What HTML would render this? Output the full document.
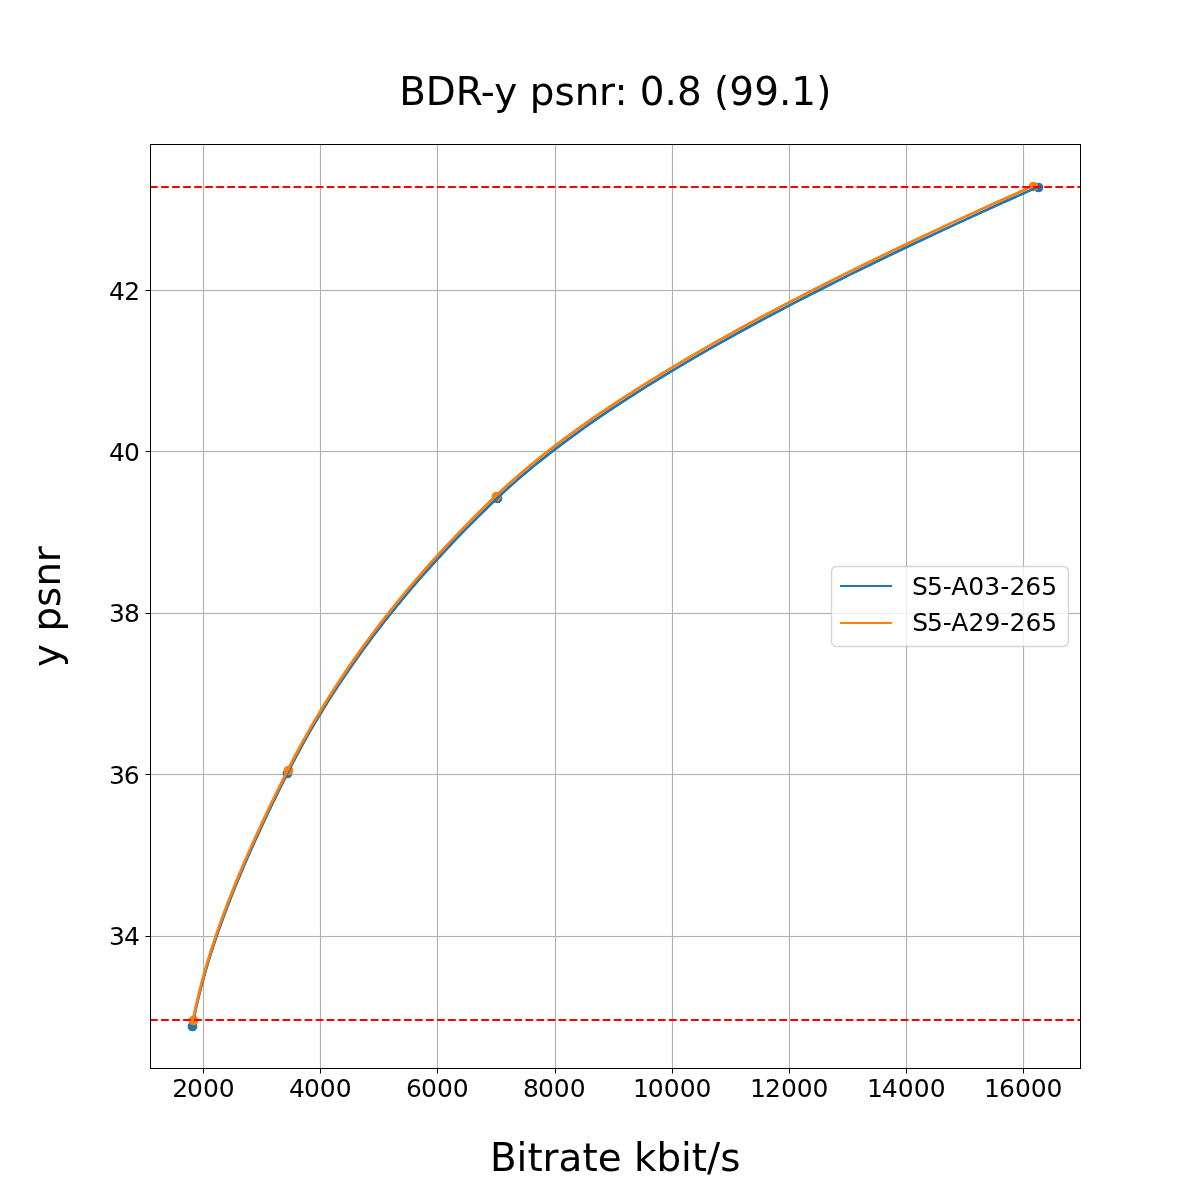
<!DOCTYPE html>
<html lang="en"><head><meta charset="utf-8"><title>BDR-y psnr: 0.8 (99.1)</title>
<style>
html,body{margin:0;padding:0;background:#fff}
svg{display:block}
text{font-family:"DejaVu Sans","Liberation Sans",sans-serif;fill:#000;white-space:pre}
.t18{font-size:25px}
.t28{font-size:38.889px}
</style></head><body>
<svg width="1200" height="1200" viewBox="0 0 1200 1200">
<rect width="1200" height="1200" fill="#fff"/>
<clipPath id="ax"><rect x="150" y="144" width="930" height="924"/></clipPath>
<g shape-rendering="crispEdges" fill="#b0b0b0">
<rect x="202" y="144" width="3" height="924" fill="#fafafa"/>
<rect x="319" y="144" width="3" height="924" fill="#fafafa"/>
<rect x="436" y="144" width="3" height="924" fill="#fafafa"/>
<rect x="554" y="144" width="3" height="924" fill="#fafafa"/>
<rect x="671" y="144" width="3" height="924" fill="#fafafa"/>
<rect x="788" y="144" width="3" height="924" fill="#fafafa"/>
<rect x="905" y="144" width="3" height="924" fill="#fafafa"/>
<rect x="1022" y="144" width="3" height="924" fill="#fafafa"/>
<rect x="150" y="289" width="930" height="3" fill="#fafafa"/>
<rect x="150" y="450" width="930" height="3" fill="#fafafa"/>
<rect x="150" y="612" width="930" height="3" fill="#fafafa"/>
<rect x="150" y="773" width="930" height="3" fill="#fafafa"/>
<rect x="150" y="935" width="930" height="3" fill="#fafafa"/>
<rect x="203" y="144" width="1" height="924"/>
<rect x="320" y="144" width="1" height="924"/>
<rect x="437" y="144" width="1" height="924"/>
<rect x="555" y="144" width="1" height="924"/>
<rect x="672" y="144" width="1" height="924"/>
<rect x="789" y="144" width="1" height="924"/>
<rect x="906" y="144" width="1" height="924"/>
<rect x="1023" y="144" width="1" height="924"/>
<rect x="150" y="290" width="930" height="1"/>
<rect x="150" y="451" width="930" height="1"/>
<rect x="150" y="613" width="930" height="1"/>
<rect x="150" y="774" width="930" height="1"/>
<rect x="150" y="936" width="930" height="1"/>
</g>
<g shape-rendering="crispEdges" fill="#000">
<rect x="203" y="1068" width="1" height="5"/><rect x="203" y="1073" width="1" height="1" fill="#7f7f7f"/>
<rect x="320" y="1068" width="1" height="5"/><rect x="320" y="1073" width="1" height="1" fill="#7f7f7f"/>
<rect x="437" y="1068" width="1" height="5"/><rect x="437" y="1073" width="1" height="1" fill="#7f7f7f"/>
<rect x="555" y="1068" width="1" height="5"/><rect x="555" y="1073" width="1" height="1" fill="#7f7f7f"/>
<rect x="672" y="1068" width="1" height="5"/><rect x="672" y="1073" width="1" height="1" fill="#7f7f7f"/>
<rect x="789" y="1068" width="1" height="5"/><rect x="789" y="1073" width="1" height="1" fill="#7f7f7f"/>
<rect x="906" y="1068" width="1" height="5"/><rect x="906" y="1073" width="1" height="1" fill="#7f7f7f"/>
<rect x="1023" y="1068" width="1" height="5"/><rect x="1023" y="1073" width="1" height="1" fill="#7f7f7f"/>
<rect x="146" y="290" width="4" height="1"/><rect x="145" y="290" width="1" height="1" fill="#7f7f7f"/>
<rect x="146" y="451" width="4" height="1"/><rect x="145" y="451" width="1" height="1" fill="#7f7f7f"/>
<rect x="146" y="613" width="4" height="1"/><rect x="145" y="613" width="1" height="1" fill="#7f7f7f"/>
<rect x="146" y="774" width="4" height="1"/><rect x="145" y="774" width="1" height="1" fill="#7f7f7f"/>
<rect x="146" y="936" width="4" height="1"/><rect x="145" y="936" width="1" height="1" fill="#7f7f7f"/>
</g>
<g clip-path="url(#ax)">
<circle cx="192.50" cy="1026.50" r="4.167" fill="#1f77b4" stroke="#1f77b4" stroke-width="1.389"/>
<circle cx="287.50" cy="773.50" r="4.167" fill="#1f77b4" stroke="#1f77b4" stroke-width="1.389"/>
<circle cx="497.50" cy="498.50" r="4.167" fill="#1f77b4" stroke="#1f77b4" stroke-width="1.389"/>
<circle cx="1038.50" cy="187.50" r="4.167" fill="#1f77b4" stroke="#1f77b4" stroke-width="1.389"/>
<circle cx="193.50" cy="1020.50" r="4.167" fill="#ff7f0e" stroke="#ff7f0e" stroke-width="1.389"/>
<circle cx="288.50" cy="770.50" r="4.167" fill="#ff7f0e" stroke="#ff7f0e" stroke-width="1.389"/>
<circle cx="496.50" cy="496.50" r="4.167" fill="#ff7f0e" stroke="#ff7f0e" stroke-width="1.389"/>
<circle cx="1033.50" cy="186.50" r="4.167" fill="#ff7f0e" stroke="#ff7f0e" stroke-width="1.389"/>
<defs><polyline id="cb" points="193.45,1020.00 193.58,1019.37 193.85,1018.08 194.21,1016.33 194.67,1014.18 195.21,1011.68 195.83,1008.87 196.54,1005.75 197.33,1002.36 198.20,998.70 199.16,994.79 200.21,990.63 201.36,986.25 202.59,981.64 203.92,976.81 205.36,971.76 206.89,966.52 208.53,961.07 210.28,955.43 212.14,949.59 214.11,943.57 216.20,937.36 218.41,930.98 220.74,924.42 223.19,917.68 225.76,910.77 228.46,903.70 231.29,896.46 234.25,889.06 237.34,881.50 240.56,873.78 243.91,865.90 247.39,857.87 251.01,849.69 254.75,841.36 258.63,832.88 262.64,824.25 266.77,815.48 271.03,806.56 275.42,797.50 279.93,788.30 284.57,778.97 289.32,769.49 294.29,759.88 299.48,750.14 304.92,740.26 310.60,730.24 316.54,720.10 322.75,709.82 329.24,699.42 336.01,688.89 343.07,678.23 350.43,667.45 358.12,656.54 366.12,645.50 374.46,634.34 383.14,623.06 392.18,611.66 401.59,600.14 411.37,588.50 421.54,576.74 432.11,564.86 443.10,552.86 454.51,540.75 466.36,528.52 478.66,516.17 491.43,503.71 504.74,491.14 519.00,478.45 534.23,465.66 550.46,452.75 567.68,439.72 585.88,426.59 605.06,413.35 625.22,400.00 646.34,386.54 668.43,372.97 691.48,359.30 715.47,345.51 740.39,331.63 766.24,317.63 793.00,303.53 820.64,289.33 849.17,275.02 878.56,260.60 908.79,246.09 939.85,231.47 971.70,216.75 1004.34,201.92 1037.73,187.00"/><polyline id="co" points="193.00,1020.00 193.13,1019.37 193.38,1018.08 193.74,1016.33 194.18,1014.18 194.71,1011.68 195.32,1008.87 196.01,1005.75 196.78,1002.36 197.64,998.70 198.58,994.79 199.61,990.63 200.73,986.25 201.94,981.64 203.25,976.81 204.65,971.76 206.16,966.52 207.78,961.07 209.50,955.43 211.33,949.59 213.28,943.57 215.34,937.36 217.52,930.98 219.82,924.42 222.24,917.68 224.79,910.77 227.46,903.70 230.26,896.46 233.19,889.06 236.25,881.50 239.45,873.78 242.77,865.90 246.23,857.87 249.82,849.69 253.55,841.36 257.41,832.88 261.39,824.25 265.51,815.48 269.76,806.56 274.14,797.50 278.64,788.30 283.26,778.97 288.01,769.49 292.92,759.88 298.07,750.14 303.44,740.26 309.06,730.24 314.94,720.10 321.07,709.82 327.47,699.42 334.15,688.89 341.12,678.23 348.38,667.45 355.96,656.54 363.85,645.50 372.08,634.34 380.64,623.06 389.56,611.66 398.84,600.14 408.50,588.50 418.55,576.74 428.99,564.86 439.85,552.86 451.14,540.75 462.86,528.52 475.04,516.17 487.68,503.71 500.83,491.14 514.88,478.45 529.92,465.66 545.96,452.75 562.99,439.72 581.02,426.59 600.03,413.35 620.02,400.00 640.99,386.54 662.93,372.97 685.83,359.30 709.68,345.51 734.47,331.63 760.19,317.63 786.83,303.53 814.36,289.33 842.77,275.02 872.06,260.60 902.19,246.09 933.14,231.47 964.90,216.75 997.45,201.92 1030.75,187.00"/></defs>
<use href="#cb" fill="none" stroke="#1f77b4" stroke-width="2.400" stroke-linecap="square" stroke-linejoin="round"/>
<use href="#cb" fill="none" stroke="#1f77b4" stroke-width="2.400" stroke-linecap="square" stroke-linejoin="round"/>
<use href="#co" fill="none" stroke="#ff7f0e" stroke-width="2.400" stroke-linecap="square" stroke-linejoin="round"/>
<use href="#co" fill="none" stroke="#ff7f0e" stroke-width="2.400" stroke-linecap="square" stroke-linejoin="round"/>
<line x1="150" y1="1020" x2="1080" y2="1020" stroke="#ff0000" stroke-width="2" stroke-dasharray="7.708 3.333"/>
<line x1="150" y1="187" x2="1080" y2="187" stroke="#ff0000" stroke-width="2" stroke-dasharray="7.708 3.333"/>
</g>
<g shape-rendering="crispEdges" fill="#000">
<rect x="150" y="144" width="1" height="925"/><rect x="1080" y="144" width="1" height="925"/>
<rect x="150" y="144" width="931" height="1"/><rect x="150" y="1068" width="931" height="1"/>
</g>
<text id="xt0" class="t18" x="172.19 186.90 202.91 218.72" y="1097">2000</text>
<text id="xt1" class="t18" x="289.05 304.03 319.79 335.87" y="1097">4000</text>
<text id="xt2" class="t18" x="405.99 420.93 436.93 452.74" y="1097">6000</text>
<text id="xt3" class="t18" x="522.99 538.07 553.83 569.64" y="1097">8000</text>
<text id="xt4" class="t18" x="633.11 647.83 663.65 679.74 695.52" y="1097">10000</text>
<text id="xt5" class="t18" x="749.99 764.97 780.88 796.69 812.51" y="1097">12000</text>
<text id="xt6" class="t18" x="866.90 881.84 897.77 913.82 929.64" y="1097">14000</text>
<text id="xt7" class="t18" x="984.04 998.94 1014.91 1030.72 1046.54" y="1097">16000</text>
<text id="yt0" class="t18" x="109.08 124.24" y="300">42</text>
<text id="yt1" class="t18" x="109.08 124.06" y="461">40</text>
<text id="yt2" class="t18" x="109.08 123.96" y="622">38</text>
<text id="yt3" class="t18" x="109.08 123.84" y="784">36</text>
<text id="yt4" class="t18" x="109.08 123.88" y="945">34</text>
<text id="xlabel" class="t28" x="490.06 516.60 527.51 542.58 558.61 582.56 597.84 621.77 633.94 656.59 680.96 691.84 707.02 720.26" y="1171">Bitrate kbit/s</text>
<text id="ylabel" class="t28" transform="translate(60.45,606.80) rotate(-90)" x="-60.19 -37.19 -24.73 -0.11 20.22 44.51" y="0">y psnr</text>
<text id="title" class="t28" x="399.21 425.78 455.72 480.82 494.29 517.29 529.84 554.47 574.72 598.99 614.41 627.50 639.73 664.45 676.91 701.65 714.00 729.37 754.16 778.93 791.27 816.25" y="105">BDR-y psnr: 0.8 (99.1)</text>
<rect x="831.5" y="566.5" width="237" height="80" rx="5" ry="5" fill="#fff" stroke="#ccc" stroke-width="1.389" opacity="0.8"/>
<g shape-rendering="crispEdges"><rect x="840" y="585" width="52" height="2" fill="#1f77b4"/><rect x="840" y="622" width="52" height="2" fill="#ff7f0e"/></g>
<text id="leg1" class="t18" x="912.10 926.92 942.74 951.15 968.34 984.27 1000.26 1009.42 1025.35 1041.13" y="595">S5-A03-265</text>
<text id="leg2" class="t18" x="912.13 926.92 942.74 951.15 968.52 984.38 1000.34 1009.56 1025.48 1041.28" y="631">S5-A29-265</text>
</svg></body></html>
